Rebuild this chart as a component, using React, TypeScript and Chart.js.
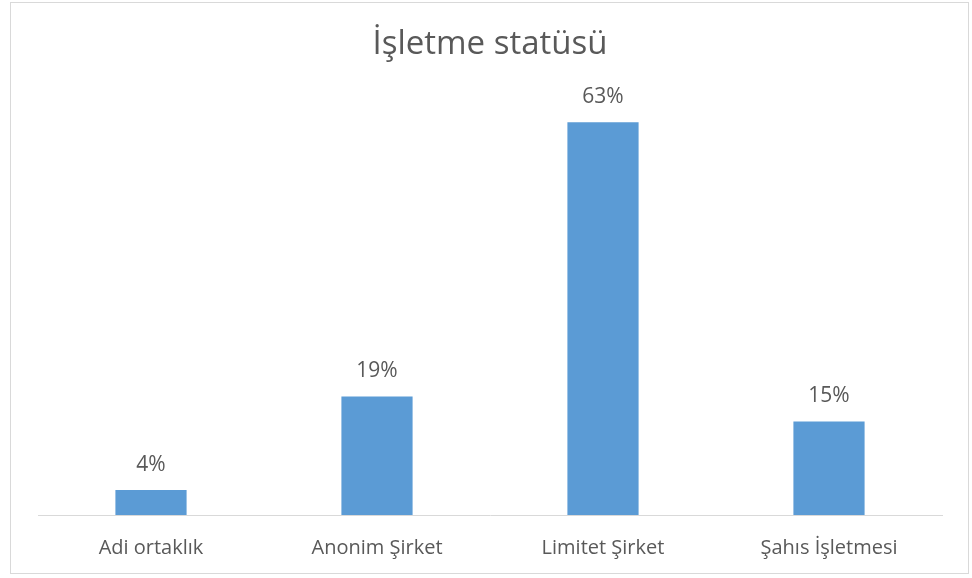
import React, { useEffect, useRef } from "react";
import { Chart, registerables } from "chart.js";

Chart.register(...registerables);

const titleText = "İşletme statüsü";
const categories = ["Adi ortaklık", "Anonim Şirket", "Limitet Şirket", "Şahıs İşletmesi"];
const shares = [4, 19, 63, 15];
const yMax = 70;

const FONT = "'Open Sans', 'Noto Sans', sans-serif";
const TEXT = "#595959";

const valueLabels = {
  id: "valueLabels",
  afterDatasetsDraw(chart: any) {
    const ctx = chart.ctx;
    const meta = chart.getDatasetMeta(0);
    ctx.save();
    ctx.font = `21px ${FONT}`;
    ctx.fillStyle = TEXT;
    ctx.textAlign = "center";
    ctx.textBaseline = "bottom";
    meta.data.forEach((el: any, i: number) => {
      ctx.fillText(`${shares[i]}%`, el.x, el.y - 15);
    });
    ctx.restore();
  },
};

export default function App() {
  const ref = useRef<HTMLCanvasElement | null>(null);
  useEffect(() => {
    document.body.style.margin = "0";
    const chart = new Chart(ref.current as HTMLCanvasElement, {
      type: "bar",
      data: {
        labels: categories,
        datasets: [
          {
            data: shares,
            backgroundColor: "#5B9BD5",
            borderWidth: 0,
            categoryPercentage: 1,
            barPercentage: 0.315,
          },
        ],
      },
      options: {
        animation: false,
        responsive: false,
        layout: { padding: { left: 38, right: 30, top: 0, bottom: -3 } },
        plugins: {
          legend: { display: false },
          tooltip: { enabled: false },
          title: {
            display: true,
            text: titleText,
            color: TEXT,
            font: { family: FONT, size: 33, weight: "normal" },
            padding: { top: 25, bottom: 14 },
          },
        },
        scales: {
          x: {
            grid: { display: false, drawTicks: false },
            border: { display: true, color: "#D9D9D9", width: 1 },
            ticks: { color: TEXT, font: { family: FONT, size: 20 }, padding: 21, maxRotation: 0 },
          },
          y: {
            display: false,
            min: 0,
            max: yMax,
          },
        },
      },
      plugins: [valueLabels],
    });
    return () => chart.destroy();
  }, []);
  return (
    <div style={{ position: "relative", width: 972, height: 578, background: "#fff" }}>
      <div
        style={{
          position: "absolute",
          left: 10,
          top: 2,
          width: 959,
          height: 572,
          border: "1px solid #D9D9D9",
          boxSizing: "border-box",
        }}
      />
      <canvas ref={ref} width={972} height={578} style={{ position: "absolute", left: 0, top: 0 }} />
    </div>
  );
}
